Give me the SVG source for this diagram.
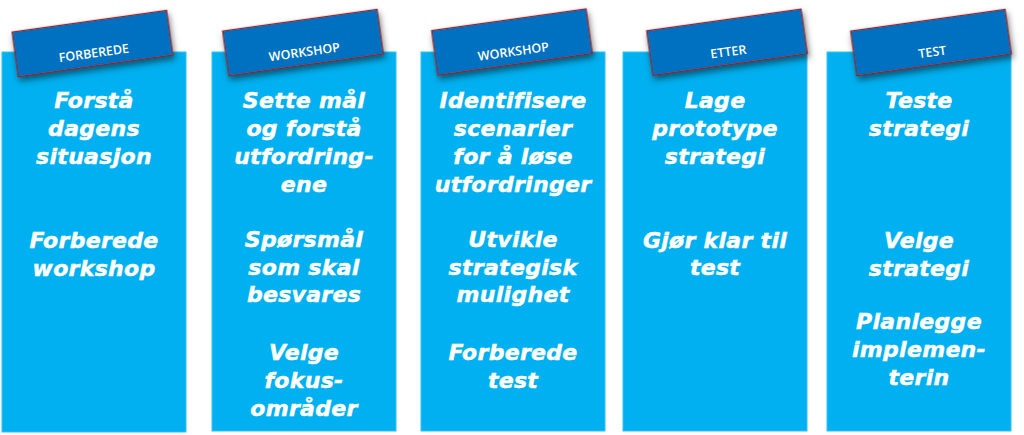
<svg xmlns="http://www.w3.org/2000/svg" width="1024" height="435" viewBox="0 0 1024 435">
  <defs>
    <filter id="shadow" x="-20%" y="-30%" width="140%" height="180%">
      <feDropShadow dx="1" dy="4" stdDeviation="3" flood-color="#000" flood-opacity="0.5"/>
    </filter>
  </defs>
  <style>
    .col { fill: #00B0F0; stroke: #33C1F3; stroke-width: 1; }
    .tab { fill: #0070C0; stroke: #8B2323; stroke-width: 1.2; }
    .tabtxt { fill: #FFFFFF; font-family: "Open Sans", "Liberation Sans", sans-serif; font-weight: 600; font-size: 12.5px; text-anchor: middle; }
    .body { fill: #FFFFFF; stroke: #FFFFFF; stroke-width: 0.5px; font-family: "DejaVu Sans", "Liberation Sans", sans-serif; font-weight: bold; font-style: italic; font-size: 22px; letter-spacing: 0.3px; text-anchor: middle; }
  </style>

  <g id="col1">
    <rect class="col" x="2" y="52" width="184" height="380"/>
    <text class="body"><tspan x="94" y="108">Forstå</tspan><tspan x="94" y="136">dagens</tspan><tspan x="94" y="164">situasjon</tspan></text>
    <text class="body"><tspan x="94" y="248">Forberede</tspan><tspan x="94" y="276">workshop</tspan></text>
  </g>
  <g id="col2">
    <rect class="col" x="212" y="52" width="184" height="379"/>
    <text class="body"><tspan x="304" y="108">Sette mål</tspan><tspan x="304" y="136">og forstå</tspan><tspan x="304" y="164">utfordring-</tspan><tspan x="304" y="192">ene</tspan></text>
    <text class="body"><tspan x="304" y="247">Spørsmål</tspan><tspan x="304" y="274.5">som skal</tspan><tspan x="304" y="302">besvares</tspan></text>
    <text class="body"><tspan x="304" y="360">Velge</tspan><tspan x="304" y="388">fokus-</tspan><tspan x="304" y="416">områder</tspan></text>
  </g>
  <g id="col3">
    <rect class="col" x="421" y="52" width="184" height="379"/>
    <text class="body"><tspan x="513" y="108">Identifisere</tspan><tspan x="513" y="136">scenarier</tspan><tspan x="513" y="164">for å løse</tspan><tspan x="513" y="192">utfordringer</tspan></text>
    <text class="body"><tspan x="513" y="247">Utvikle</tspan><tspan x="513" y="274.5">strategisk</tspan><tspan x="513" y="302">mulighet</tspan></text>
    <text class="body"><tspan x="513" y="360">Forberede</tspan><tspan x="513" y="388">test</tspan></text>
  </g>
  <g id="col4">
    <rect class="col" x="623" y="52" width="184" height="379"/>
    <text class="body"><tspan x="715" y="108">Lage</tspan><tspan x="715" y="136">prototype</tspan><tspan x="715" y="164">strategi</tspan></text>
    <text class="body"><tspan x="715" y="248">Gjør klar til</tspan><tspan x="715" y="275">test</tspan></text>
  </g>
  <g id="col5">
    <rect class="col" x="827" y="52" width="184" height="379"/>
    <text class="body"><tspan x="919" y="108">Teste</tspan><tspan x="919" y="136">strategi</tspan></text>
    <text class="body"><tspan x="919" y="248">Velge</tspan><tspan x="919" y="276">strategi</tspan></text>
    <text class="body"><tspan x="919" y="329">Planlegge</tspan><tspan x="919" y="357">implemen-</tspan><tspan x="919" y="385">terin</tspan></text>
  </g>

  <g id="tab1" transform="translate(92.5,43.5) rotate(-8)">
    <rect class="tab" x="-78" y="-22.5" width="156" height="45" filter="url(#shadow)"/>
    <text class="tabtxt" x="0" y="14">FORBEREDE</text>
  </g>
  <g id="tab2" transform="translate(303,42.5) rotate(-8)">
    <rect class="tab" x="-78" y="-22.5" width="156" height="45" filter="url(#shadow)"/>
    <text class="tabtxt" x="0" y="14">WORKSHOP</text>
  </g>
  <g id="tab3" transform="translate(512,42) rotate(-8)">
    <rect class="tab" x="-78" y="-22.5" width="156" height="45" filter="url(#shadow)"/>
    <text class="tabtxt" x="0" y="14">WORKSHOP</text>
  </g>
  <g id="tab4" transform="translate(727,42.2) rotate(-8)">
    <rect class="tab" x="-78" y="-22.5" width="156" height="45" filter="url(#shadow)"/>
    <text class="tabtxt" x="0" y="14">ETTER</text>
  </g>
  <g id="tab5" transform="translate(931,42.5) rotate(-8)">
    <rect class="tab" x="-78" y="-22.5" width="156" height="45" filter="url(#shadow)"/>
    <text class="tabtxt" x="0" y="14">TEST</text>
  </g>
  <g id="connectors"/>
</svg>
